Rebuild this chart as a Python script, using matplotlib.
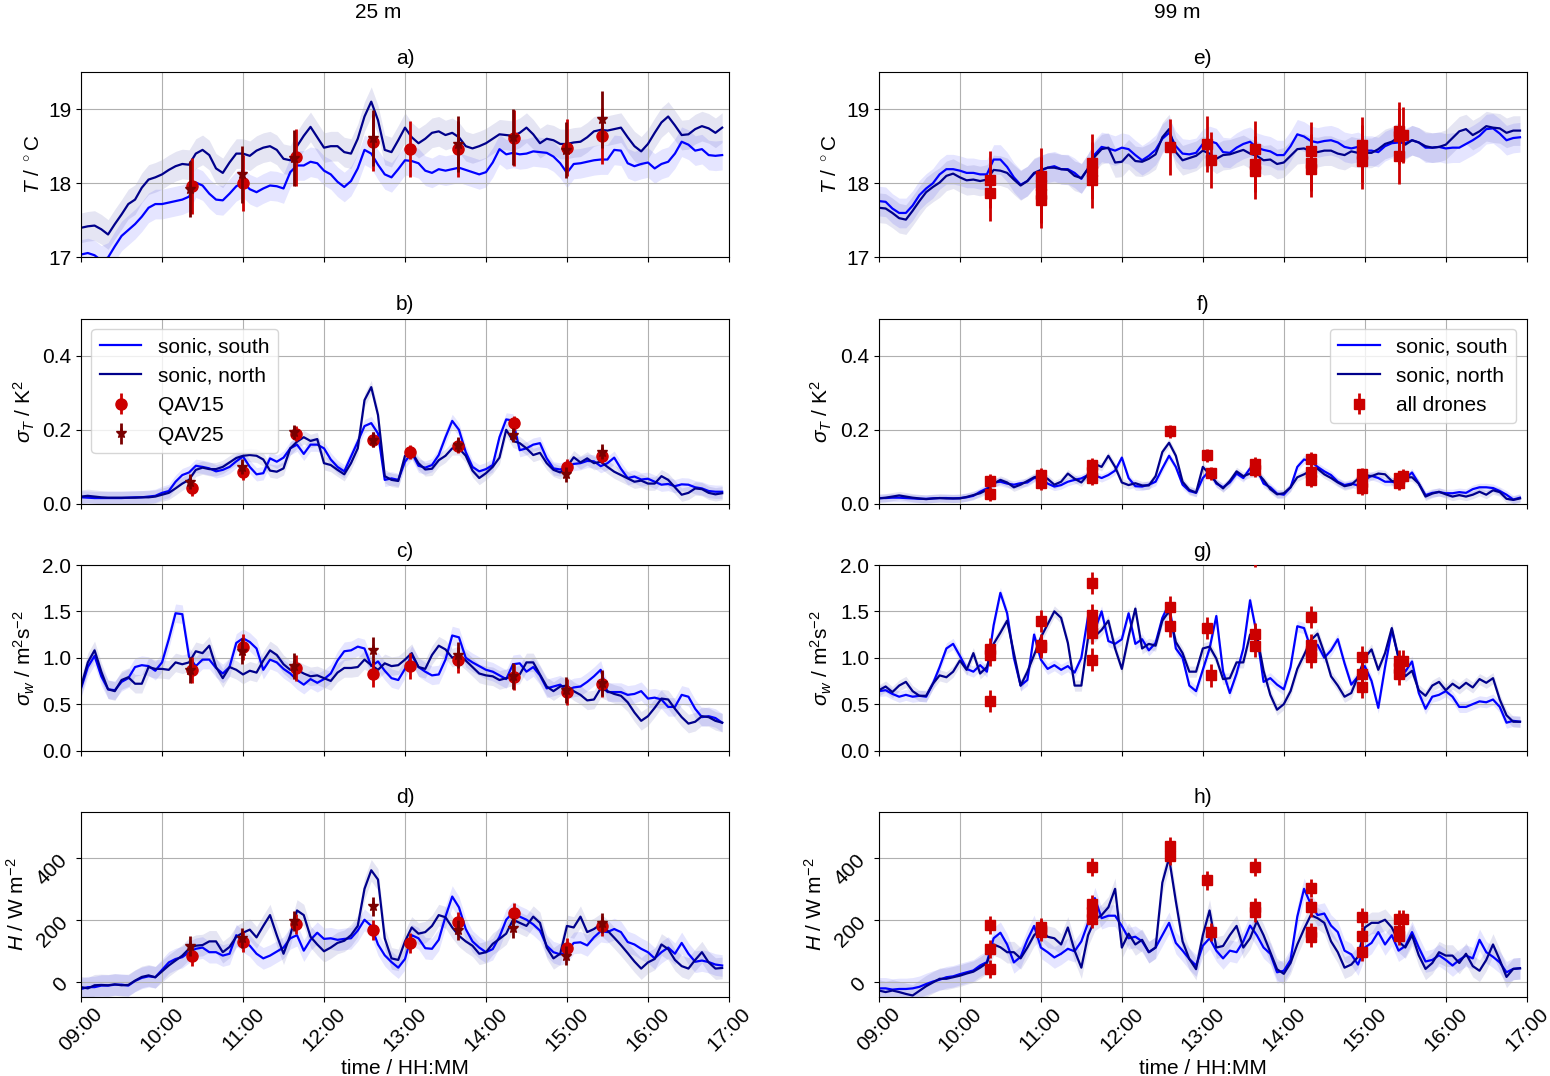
import numpy as np
import matplotlib
matplotlib.use("Agg")
import matplotlib.pyplot as plt
import matplotlib.dates as mdates

plt.rcParams['font.family'] = ['Liberation Sans', 'DejaVu Sans']
plt.rcParams['font.size'] = 15
plt.rcParams['mathtext.fontset'] = 'custom'
plt.rcParams['mathtext.rm'] = 'Liberation Sans'
plt.rcParams['mathtext.it'] = 'Liberation Sans:italic'

# ---------------- data ----------------
# sonic time series: 5-minute samples starting at 09:00 (minutes after 09:00)
sonic_minutes = np.arange(0, 480, 5)

T25_south = [17.04, 17.06, 17.03, 16.96, 17.00, 17.15, 17.29, 17.37, 17.45, 17.55, 17.67, 17.72,
             17.72, 17.74, 17.76, 17.78, 17.82, 18.01, 17.97, 17.86, 17.78, 17.77, 17.86, 17.96,
             18.01, 17.92, 17.88, 17.93, 17.97, 17.96, 17.93, 18.15, 18.24, 18.24, 18.29, 18.27,
             18.17, 18.12, 18.02, 17.95, 18.03, 18.20, 18.45, 18.40, 18.25, 18.12, 18.08, 18.19,
             18.31, 18.30, 18.27, 18.17, 18.14, 18.19, 18.17, 18.19, 18.21, 18.18, 18.15, 18.12,
             18.15, 18.28, 18.46, 18.39, 18.41, 18.39, 18.40, 18.43, 18.42, 18.41, 18.36, 18.27,
             18.14, 18.26, 18.27, 18.29, 18.31, 18.32, 18.32, 18.45, 18.44, 18.27, 18.23, 18.26,
             18.28, 18.20, 18.26, 18.29, 18.40, 18.56, 18.52, 18.44, 18.46, 18.38, 18.37, 18.38]
T25_north = [17.40, 17.42, 17.43, 17.38, 17.31, 17.45, 17.58, 17.72, 17.78, 17.94, 18.05, 18.08,
             18.12, 18.18, 18.23, 18.26, 18.25, 18.40, 18.45, 18.38, 18.20, 18.14, 18.28, 18.40,
             18.40, 18.37, 18.44, 18.48, 18.50, 18.45, 18.33, 18.31, 18.50, 18.64, 18.76, 18.62,
             18.48, 18.50, 18.50, 18.42, 18.40, 18.60, 18.90, 19.10, 18.85, 18.45, 18.42, 18.58,
             18.75, 18.62, 18.54, 18.60, 18.68, 18.70, 18.65, 18.68, 18.62, 18.50, 18.47, 18.50,
             18.54, 18.60, 18.66, 18.65, 18.64, 18.68, 18.75, 18.66, 18.54, 18.60, 18.58, 18.53,
             18.53, 18.55, 18.56, 18.62, 18.70, 18.72, 18.71, 18.73, 18.75, 18.62, 18.50, 18.43,
             18.53, 18.68, 18.82, 18.90, 18.78, 18.65, 18.66, 18.73, 18.77, 18.74, 18.68, 18.75]

sT25_south = [0.018, 0.017, 0.016, 0.016, 0.016, 0.016, 0.016, 0.017, 0.018, 0.018, 0.020, 0.022,
              0.030, 0.035, 0.060, 0.078, 0.085, 0.103, 0.100, 0.096, 0.088, 0.092, 0.100, 0.115,
              0.128, 0.100, 0.080, 0.083, 0.123, 0.114, 0.125, 0.150, 0.160, 0.135, 0.160, 0.160,
              0.150, 0.120, 0.100, 0.088, 0.128, 0.168, 0.210, 0.218, 0.190, 0.065, 0.069, 0.065,
              0.114, 0.138, 0.103, 0.098, 0.105, 0.132, 0.180, 0.224, 0.200, 0.140, 0.100, 0.088,
              0.094, 0.105, 0.180, 0.228, 0.225, 0.145, 0.150, 0.160, 0.164, 0.123, 0.096, 0.093,
              0.100, 0.108, 0.110, 0.116, 0.115, 0.102, 0.110, 0.125, 0.095, 0.070, 0.074, 0.066,
              0.068, 0.060, 0.052, 0.054, 0.048, 0.053, 0.052, 0.045, 0.042, 0.035, 0.033, 0.033]
sT25_north = [0.020, 0.022, 0.020, 0.018, 0.017, 0.017, 0.017, 0.017, 0.017, 0.018, 0.018, 0.020,
              0.025, 0.030, 0.042, 0.055, 0.065, 0.092, 0.098, 0.094, 0.094, 0.100, 0.112, 0.124,
              0.130, 0.132, 0.130, 0.120, 0.090, 0.087, 0.096, 0.150, 0.168, 0.180, 0.170, 0.175,
              0.110, 0.105, 0.092, 0.080, 0.110, 0.150, 0.280, 0.315, 0.240, 0.075, 0.065, 0.062,
              0.130, 0.140, 0.110, 0.093, 0.095, 0.118, 0.130, 0.150, 0.150, 0.130, 0.090, 0.070,
              0.083, 0.100, 0.125, 0.200, 0.170, 0.164, 0.150, 0.132, 0.138, 0.110, 0.092, 0.085,
              0.100, 0.126, 0.112, 0.123, 0.110, 0.114, 0.100, 0.087, 0.078, 0.069, 0.060, 0.063,
              0.055, 0.055, 0.075, 0.065, 0.045, 0.025, 0.030, 0.042, 0.040, 0.030, 0.026, 0.029]

sw25_south = [0.67, 0.90, 1.02, 0.80, 0.66, 0.65, 0.74, 0.78, 0.90, 0.92, 0.91, 0.86,
              0.95, 1.20, 1.48, 1.47, 1.01, 0.91, 0.98, 0.98, 0.89, 0.83, 0.90, 1.16,
              1.21, 1.17, 1.10, 0.87, 0.98, 0.95, 0.88, 0.83, 0.76, 0.71, 0.77, 0.73,
              0.77, 0.83, 0.97, 1.07, 1.08, 1.12, 1.10, 0.91, 0.96, 0.86, 0.78, 0.76,
              0.88, 1.03, 0.90, 0.85, 0.81, 0.82, 0.98, 1.24, 1.22, 1.00, 0.95, 0.91,
              0.87, 0.85, 0.81, 0.77, 0.93, 0.94, 0.85, 0.90, 0.81, 0.67, 0.69, 0.71,
              0.65, 0.68, 0.69, 0.74, 0.80, 0.87, 0.63, 0.63, 0.63, 0.60, 0.61, 0.64,
              0.56, 0.57, 0.55, 0.47, 0.47, 0.60, 0.58, 0.45, 0.36, 0.37, 0.35, 0.30]
sw25_north = [0.69, 0.95, 1.08, 0.85, 0.66, 0.64, 0.76, 0.79, 0.72, 0.72, 0.90, 0.88,
              0.88, 0.87, 0.95, 0.93, 0.95, 1.07, 1.05, 1.13, 0.90, 0.78, 0.90, 0.87,
              0.82, 0.86, 0.84, 0.97, 1.08, 1.03, 0.93, 0.87, 0.87, 0.83, 0.80, 0.81,
              0.78, 0.75, 0.84, 0.89, 0.89, 0.90, 0.98, 0.92, 0.87, 0.94, 0.91, 0.92,
              0.98, 1.05, 0.90, 0.88, 1.03, 1.13, 1.09, 1.00, 1.03, 0.97, 0.90, 0.83,
              0.81, 0.80, 0.76, 0.78, 0.80, 0.82, 0.95, 0.95, 0.82, 0.69, 0.64, 0.69,
              0.70, 0.64, 0.60, 0.54, 0.55, 0.67, 0.64, 0.61, 0.59, 0.52, 0.41, 0.32,
              0.37, 0.46, 0.56, 0.55, 0.45, 0.36, 0.29, 0.31, 0.37, 0.36, 0.32, 0.30]

H25_south = [-24, -18, -18, -13, -13, -10, -10, -13, 2, 12, 17, 14,
             38, 62, 73, 79, 95, 106, 110, 95, 95, 84, 90, 150,
             130, 116, 90, 75, 84, 97, 110, 140, 150, 100, 135, 158,
             138, 140, 135, 138, 140, 165, 200, 180, 120, 85, 63, 45,
             73, 150, 140, 108, 106, 135, 210, 275, 240, 170, 130, 110,
             95, 105, 145, 200, 224, 210, 200, 185, 165, 116, 95, 88,
             95, 125, 127, 117, 143, 163, 160, 170, 160, 128, 120, 106,
             95, 75, 95, 110, 90, 125, 90, 64, 68, 63, 55, 52]
H25_north = [-18, -22, -12, -11, -12, -9, -12, -11, 3, 15, 20, 14,
             33, 52, 68, 84, 106, 116, 118, 130, 130, 95, 112, 145,
             158, 168, 143, 180, 215, 150, 90, 150, 230, 215, 145, 120,
             98, 110, 125, 132, 150, 180, 300, 360, 330, 140, 75, 70,
             130, 175, 155, 160, 180, 215, 208, 175, 148, 130, 116, 90,
             95, 122, 138, 155, 200, 190, 180, 210, 190, 110, 75, 90,
             180, 175, 210, 160, 170, 185, 165, 142, 118, 92, 65, 42,
             62, 73, 120, 105, 70, 50, 42, 70, 95, 62, 42, 44]

T99_south = [17.76, 17.75, 17.66, 17.60, 17.60, 17.70, 17.84, 17.93, 18.00, 18.12, 18.19, 18.19,
             18.17, 18.14, 18.14, 18.12, 18.12, 18.32, 18.32, 18.22, 18.08, 17.98, 18.03, 18.13,
             18.17, 18.21, 18.23, 18.19, 18.19, 18.14, 18.06, 18.20, 18.39, 18.49, 18.47, 18.44,
             18.48, 18.46, 18.38, 18.31, 18.37, 18.45, 18.60, 18.68, 18.50, 18.40, 18.39, 18.41,
             18.53, 18.57, 18.54, 18.42, 18.41, 18.48, 18.53, 18.56, 18.48, 18.45, 18.43, 18.38,
             18.38, 18.50, 18.66, 18.63, 18.57, 18.55, 18.57, 18.58, 18.55, 18.49, 18.47, 18.49,
             18.44, 18.44, 18.42, 18.50, 18.54, 18.55, 18.54, 18.58, 18.55, 18.48, 18.48, 18.49,
             18.47, 18.48, 18.48, 18.53, 18.58, 18.64, 18.73, 18.74, 18.67, 18.58, 18.61, 18.62]
T99_north = [17.67, 17.66, 17.60, 17.53, 17.51, 17.63, 17.76, 17.88, 17.95, 18.01, 18.10, 18.13,
             18.08, 18.04, 18.05, 18.03, 18.05, 18.18, 18.17, 18.14, 18.05, 17.97, 18.03, 18.14,
             18.18, 18.21, 18.21, 18.19, 18.18, 18.10, 18.07, 18.20, 18.36, 18.46, 18.48, 18.28,
             18.29, 18.39, 18.30, 18.29, 18.33, 18.39, 18.62, 18.73, 18.42, 18.31, 18.34, 18.37,
             18.44, 18.40, 18.33, 18.38, 18.39, 18.42, 18.45, 18.40, 18.37, 18.31, 18.32, 18.26,
             18.28, 18.37, 18.46, 18.47, 18.43, 18.42, 18.44, 18.44, 18.40, 18.38, 18.43, 18.41,
             18.41, 18.41, 18.46, 18.53, 18.56, 18.62, 18.52, 18.58, 18.55, 18.50, 18.48, 18.49,
             18.52, 18.61, 18.70, 18.73, 18.65, 18.70, 18.77, 18.75, 18.74, 18.68, 18.71, 18.71]

sT99_south = [0.016, 0.016, 0.017, 0.017, 0.016, 0.015, 0.014, 0.014, 0.015, 0.016, 0.016, 0.015,
              0.016, 0.018, 0.022, 0.033, 0.042, 0.058, 0.060, 0.055, 0.052, 0.056, 0.058, 0.070,
              0.070, 0.055, 0.047, 0.051, 0.060, 0.065, 0.069, 0.078, 0.077, 0.070, 0.078, 0.090,
              0.125, 0.070, 0.048, 0.047, 0.052, 0.060, 0.096, 0.130, 0.100, 0.052, 0.035, 0.030,
              0.070, 0.090, 0.055, 0.045, 0.058, 0.082, 0.070, 0.096, 0.095, 0.055, 0.045, 0.028,
              0.025, 0.045, 0.100, 0.120, 0.115, 0.100, 0.088, 0.078, 0.060, 0.051, 0.055, 0.050,
              0.065, 0.076, 0.070, 0.060, 0.060, 0.056, 0.068, 0.085, 0.055, 0.024, 0.030, 0.032,
              0.029, 0.029, 0.032, 0.030, 0.040, 0.045, 0.045, 0.043, 0.035, 0.025, 0.012, 0.017]
sT99_north = [0.015, 0.017, 0.020, 0.023, 0.020, 0.017, 0.015, 0.013, 0.015, 0.016, 0.015, 0.015,
              0.015, 0.019, 0.024, 0.029, 0.038, 0.055, 0.065, 0.058, 0.045, 0.052, 0.062, 0.072,
              0.077, 0.068, 0.052, 0.060, 0.082, 0.068, 0.058, 0.080, 0.108, 0.100, 0.130, 0.100,
              0.058, 0.051, 0.056, 0.050, 0.050, 0.075, 0.140, 0.165, 0.130, 0.060, 0.038, 0.031,
              0.100, 0.080, 0.058, 0.042, 0.062, 0.088, 0.075, 0.082, 0.085, 0.065, 0.040, 0.026,
              0.029, 0.045, 0.072, 0.080, 0.090, 0.095, 0.080, 0.070, 0.058, 0.048, 0.052, 0.068,
              0.078, 0.075, 0.082, 0.080, 0.062, 0.060, 0.072, 0.072, 0.055, 0.020, 0.028, 0.033,
              0.026, 0.020, 0.024, 0.020, 0.025, 0.033, 0.025, 0.037, 0.032, 0.014, 0.011, 0.015]

sw99_south = [0.64, 0.65, 0.61, 0.58, 0.60, 0.58, 0.59, 0.58, 0.72, 0.90, 1.10, 1.15,
              1.02, 0.88, 0.85, 0.92, 0.85, 1.35, 1.70, 1.48, 1.00, 0.70, 0.76, 1.25,
              0.98, 0.88, 0.92, 0.87, 0.91, 0.84, 1.00, 1.45, 1.30, 1.50, 1.18, 1.15,
              1.20, 1.48, 1.15, 1.20, 1.08, 1.16, 1.43, 1.58, 1.10, 1.00, 0.70, 0.64,
              0.87, 1.10, 1.45, 0.85, 0.62, 0.83, 1.10, 1.62, 1.25, 0.74, 0.78, 0.71,
              0.66, 0.90, 1.34, 1.32, 1.10, 1.14, 1.00, 1.08, 1.20, 0.94, 0.71, 0.80,
              0.91, 0.75, 0.46, 0.90, 1.30, 1.00, 0.85, 0.96, 0.62, 0.45, 0.58, 0.60,
              0.64, 0.58, 0.47, 0.47, 0.50, 0.53, 0.52, 0.55, 0.47, 0.30, 0.32, 0.31]
sw99_north = [0.65, 0.69, 0.63, 0.70, 0.74, 0.64, 0.59, 0.59, 0.72, 0.81, 0.79, 0.85,
              0.97, 0.87, 1.05, 0.83, 0.90, 1.15, 1.27, 1.40, 1.05, 0.70, 0.85, 1.03,
              1.22, 1.36, 1.50, 1.43, 1.16, 0.70, 0.70, 1.22, 1.23, 1.30, 1.40, 1.10,
              0.88, 1.23, 1.53, 1.10, 1.15, 1.13, 1.40, 1.50, 1.17, 1.05, 0.85, 0.85,
              1.10, 1.12, 0.99, 0.77, 0.78, 0.95, 0.95, 1.25, 1.25, 0.86, 0.60, 0.44,
              0.50, 0.64, 0.88, 1.03, 1.19, 1.26, 1.05, 0.80, 0.70, 0.58, 0.62, 0.80,
              1.00, 1.09, 0.87, 1.05, 1.32, 1.00, 0.80, 0.86, 0.65, 0.59, 0.70, 0.74,
              0.65, 0.72, 0.67, 0.73, 0.68, 0.77, 0.73, 0.78, 0.55, 0.38, 0.31, 0.31]

H99_south = [-22, -22, -26, -24, -24, -22, -17, -8, 0, 6, 14, 17,
             24, 30, 36, 52, 63, 140, 158, 120, 62, 80, 135, 180,
             110, 95, 78, 90, 106, 98, 130, 190, 270, 205, 213, 213,
             180, 140, 145, 130, 95, 110, 150, 190, 125, 100, 73, 52,
             116, 140, 100, 75, 100, 95, 130, 181, 150, 110, 90, 30,
             35, 70, 210, 300, 250, 215, 220, 181, 160, 100, 88, 55,
             110, 125, 160, 120, 150, 100, 115, 160, 110, 65, 70, 85,
             70, 52, 70, 84, 75, 135, 95, 80, 62, 30, 41, 43]
H99_north = [-29, -34, -29, -34, -40, -45, -30, -15, -3, 9, 9, 14,
             19, 26, 32, 45, 60, 120, 111, 95, 95, 75, 110, 150,
             170, 145, 140, 120, 175, 100, 45, 150, 200, 215, 240, 300,
             110, 155, 120, 135, 95, 110, 320, 400, 260, 130, 73, 40,
             150, 230, 110, 115, 150, 180, 110, 140, 195, 150, 95, 40,
             25, 60, 120, 170, 215, 205, 190, 130, 95, 45, 55, 80,
             175, 190, 190, 200, 175, 130, 110, 150, 85, 41, 60, 95,
             84, 84, 60, 90, 50, 35, 70, 120, 70, 15, 41, 43]

# half-width of the sonic uncertainty bands
band_T, band_sT, band_sw, band_H = 0.2, 0.018, 0.10, 35
band_sT99, band_sw99 = 0.011, 0.06

# drones at 25 m (minutes after 09:00)
qav15_min = [82, 120, 159, 216, 244, 279, 321, 360, 386]
qav15_T = [17.96, 18.00, 18.35, 18.55, 18.46, 18.46, 18.61, 18.48, 18.64]
qav15_sT = [0.042, 0.086, 0.190, 0.173, 0.140, 0.157, 0.218, 0.100, 0.130]
qav15_sw = [0.87, 1.12, 0.89, 0.83, 0.91, 0.98, 0.79, 0.63, 0.72]
qav15_H = [82, 129, 186, 168, 125, 194, 222, 108, 179]
qav25_min = [81, 119, 158, 216, 279, 320, 359, 386]
qav25_T = [17.92, 18.12, 18.34, 18.61, 18.53, 18.62, 18.45, 18.86]
qav25_sT = [0.060, 0.100, 0.194, 0.173, 0.160, 0.186, 0.080, 0.141]
qav25_sw = [0.87, 1.07, 0.91, 1.08, 1.03, 0.80, 0.65, 0.73]
qav25_H = [114, 140, 197, 243, 168, 172, 84, 190]
err_T, err_sT, err_sw, err_H = 0.38, 0.02, 0.14, 32

# all drones at 99 m
d99_T_min = [82, 82, 120, 120, 120, 120, 158, 158, 158, 216, 243, 246, 279, 279, 279,
             320, 320, 320, 358, 358, 358, 385, 385, 385, 388]
d99_T = [18.05, 17.87, 18.10, 17.98, 17.85, 17.78, 18.28, 18.17, 18.05, 18.49, 18.53, 18.31,
         18.46, 18.26, 18.17, 18.44, 18.28, 18.19, 18.52, 18.40, 18.30, 18.71, 18.64, 18.37, 18.65]
d99_sT_min = [82, 82, 120, 120, 158, 158, 158, 216, 243, 246, 279, 279, 320, 320, 320,
              358, 358, 358, 385, 385, 388]
d99_sT = [0.063, 0.027, 0.078, 0.056, 0.105, 0.086, 0.069, 0.196, 0.131, 0.083, 0.108, 0.092,
          0.121, 0.087, 0.065, 0.080, 0.060, 0.042, 0.069, 0.056, 0.076]
d99_sw_min = [82, 82, 82, 120, 120, 120, 158, 158, 158, 158, 158, 216, 216, 243, 246,
              279, 279, 279, 320, 320, 320, 320, 358, 358, 358, 385, 385, 385, 388]
d99_sw = [1.09, 1.03, 0.53, 1.40, 1.14, 1.12, 1.81, 1.46, 1.34, 1.27, 0.98, 1.55, 1.34, 1.32,
          0.81, 2.10, 1.26, 1.13, 1.44, 1.14, 1.07, 1.01, 1.01, 0.83, 0.69, 0.96, 0.89, 0.83, 0.96]
d99_H_min = [82, 82, 82, 120, 120, 120, 158, 158, 158, 158, 216, 216, 243, 246,
             279, 279, 279, 320, 320, 320, 320, 358, 358, 358, 385, 385, 385, 388]
d99_H = [183, 106, 41, 176, 168, 160, 370, 251, 224, 203, 438, 407, 327, 160,
         370, 240, 224, 303, 240, 160, 143, 208, 146, 95, 203, 165, 149, 203]
err99_T, err99_sT, err99_sw, err99_H = 0.38, 0.018, 0.12, 30

# ---------------- plotting ----------------
T0 = np.datetime64('2021-06-01T09:00')


def tt(m):
    return T0 + np.asarray(m, dtype=int).astype('timedelta64[m]')


C_S = '#0000ff'
C_N = '#00008b'
C_RED = '#cc0000'
C_MAR = '#7a0000'

fig, axes = plt.subplots(4, 2, figsize=(15.5, 10.76), dpi=100, sharex=True)
fig.subplots_adjust(left=0.0523, right=0.985, bottom=0.0734, top=0.9331,
                    wspace=0.2315, hspace=0.329)

ts = tt(sonic_minutes)

left_panels = [
    ('a)', T25_south, T25_north, band_T, qav15_T, qav25_T, err_T, (17, 19.5), [17, 18, 19], r'$T$ / $^\circ$C'),
    ('b)', sT25_south, sT25_north, band_sT, qav15_sT, qav25_sT, err_sT, (0, 0.5), [0.0, 0.2, 0.4], r'$\sigma_T$ / K$^2$'),
    ('c)', sw25_south, sw25_north, band_sw, qav15_sw, qav25_sw, err_sw, (0, 2.0), [0.0, 0.5, 1.0, 1.5, 2.0], r'$\sigma_w$ / m$^2$s$^{-2}$'),
    ('d)', H25_south, H25_north, band_H, qav15_H, qav25_H, err_H, (-50, 550), [0, 200, 400], r'$H$ / W m$^{-2}$'),
]
right_panels = [
    ('e)', T99_south, T99_north, band_T, d99_T_min, d99_T, err99_T, (17, 19.5), [17, 18, 19], r'$T$ / $^\circ$C'),
    ('f)', sT99_south, sT99_north, band_sT99, d99_sT_min, d99_sT, err99_sT, (0, 0.5), [0.0, 0.2, 0.4], r'$\sigma_T$ / K$^2$'),
    ('g)', sw99_south, sw99_north, band_sw99, d99_sw_min, d99_sw, err99_sw, (0, 2.0), [0.0, 0.5, 1.0, 1.5, 2.0], r'$\sigma_w$ / m$^2$s$^{-2}$'),
    ('h)', H99_south, H99_north, band_H, d99_H_min, d99_H, err99_H, (-50, 550), [0, 200, 400], r'$H$ / W m$^{-2}$'),
]


def draw_sonic(ax, south, north, band):
    s = np.asarray(south, float)
    n = np.asarray(north, float)
    ax.fill_between(ts, s - band, s + band, color=C_S, alpha=0.1, lw=0)
    ax.fill_between(ts, n - band, n + band, color=C_N, alpha=0.1, lw=0)
    ax.plot(ts, s, color=C_S, lw=1.6, label='sonic, south')
    ax.plot(ts, n, color=C_N, lw=1.6, label='sonic, north')


def style(ax, title, ylim, yticks, ylabel, row):
    ax.set_title(title, fontsize=15)
    ax.set_ylim(*ylim)
    ax.set_yticks(yticks)
    ax.set_ylabel(ylabel)
    ax.grid(True, color='#b0b0b0', lw=0.8)
    ax.set_xlim(tt(0), tt(480))
    ax.xaxis.set_major_locator(mdates.HourLocator())
    ax.xaxis.set_major_formatter(mdates.DateFormatter('%H:%M'))
    if row == 3:
        ax.tick_params(axis='y', labelrotation=45)
        ax.tick_params(axis='x', labelrotation=45, pad=2)
        ax.set_xlabel('time / HH:MM', labelpad=2.5)


for i, (title, s, n, band, v15, v25, err, ylim, yt, yl) in enumerate(left_panels):
    ax = axes[i, 0]
    draw_sonic(ax, s, n, band)
    ax.errorbar(tt(qav15_min), v15, yerr=err, fmt='o', color=C_RED, ms=8,
                elinewidth=2, capsize=0, zorder=4, label='QAV15')
    ax.errorbar(tt(qav25_min), v25, yerr=err, fmt='*', color=C_MAR, ms=8,
                elinewidth=2, capsize=0, zorder=5, label='QAV25')
    style(ax, title, ylim, yt, yl, i)
    if i == 1:
        ax.legend(loc='upper left')

for i, (title, s, n, band, dm, dv, err, ylim, yt, yl) in enumerate(right_panels):
    ax = axes[i, 1]
    draw_sonic(ax, s, n, band)
    ax.errorbar(tt(dm), dv, yerr=err, fmt='s', color=C_RED, ms=7,
                elinewidth=2, capsize=0, zorder=4, label='all drones')
    style(ax, title, ylim, yt, yl, i)
    if i == 1:
        ax.legend(loc='upper right')

fig.text(378 / 1550, 1 - 12 / 1076, '25 m', ha='center', va='center', fontsize=15)
fig.text(1177 / 1550, 1 - 12 / 1076, '99 m', ha='center', va='center', fontsize=15)

fig.savefig('out.png', dpi=100)
